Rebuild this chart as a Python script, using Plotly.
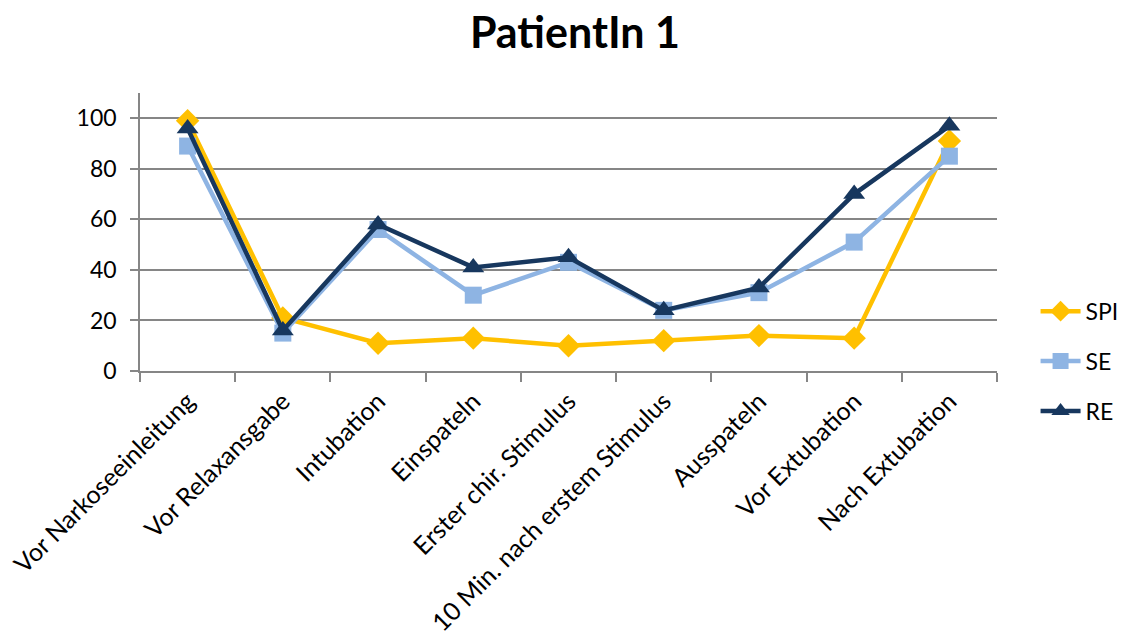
import plotly.graph_objects as go

# Measurement phases
categories = [
    "Vor Narkoseeinleitung",
    "Vor Relaxansgabe",
    "Intubation",
    "Einspateln",
    "Erster chir. Stimulus",
    "10 Min. nach erstem Stimulus",
    "Ausspateln",
    "Vor Extubation",
    "Nach Extubation",
]

spi = [99, 21, 11, 13, 10, 12, 14, 13, 91]
se = [89, 15, 56, 30, 43, 24, 31, 51, 85]
re = [96, 16, 58, 41, 45, 24, 33, 70, 97]

y_ticks = [0, 20, 40, 60, 80, 100]

FONT = "Lato"

fig = go.Figure()

series = [
    ("SPI", spi, "#FFC000", "diamond", 18),
    ("SE", se, "#8EB4E3", "square", 17),
    ("RE", re, "#17375E", "triangle-up", 19),
]

for name, vals, color, symbol, size in series:
    fig.add_trace(go.Scatter(
        x=categories,
        y=vals,
        name=name,
        legendgroup=name,
        mode="lines+markers",
        line=dict(color=color, width=4.5),
        marker=dict(symbol=symbol, size=size, color=color, line=dict(width=0)),
    ))

fig.update_layout(
    width=1134,
    height=635,
    margin=dict(l=140, r=137, t=93, b=264, autoexpand=False),
    paper_bgcolor="white",
    plot_bgcolor="white",
    font=dict(family=FONT, size=23, color="black"),
    title=dict(
        text="<b>PatientIn 1</b>",
        x=0.507,
        xanchor="center",
        y=0.948,
        yanchor="middle",
        font=dict(family=FONT, size=43, color="black"),
    ),
    showlegend=True,
    legend=dict(
        x=1.045,
        xanchor="left",
        y=0.035,
        yanchor="middle",
        tracegroupgap=17,
        font=dict(family=FONT, size=23, color="black"),
        itemwidth=40,
        bgcolor="rgba(0,0,0,0)",
    ),
)

fig.update_xaxes(
    type="category",
    tickangle=-45,
    tickson="boundaries",
    ticks="outside",
    ticklen=9,
    tickwidth=1.5,
    tickcolor="#868686",
    showline=True,
    linecolor="#868686",
    linewidth=1.5,
    showgrid=False,
    ticklabelstandoff=4,
    tickfont=dict(family=FONT, size=25, color="black"),
    range=[-0.5, len(categories) - 0.5],
)

fig.update_yaxes(
    range=[0, 110],
    tickvals=y_ticks,
    ticks="outside",
    ticklen=8,
    tickwidth=1.5,
    tickcolor="#868686",
    showline=True,
    linecolor="#868686",
    linewidth=1.5,
    showgrid=True,
    gridcolor="#868686",
    gridwidth=1.5,
    zeroline=False,
    ticklabelstandoff=9,
    tickfont=dict(family=FONT, size=23, color="black"),
)

fig.write_html("out.html")
